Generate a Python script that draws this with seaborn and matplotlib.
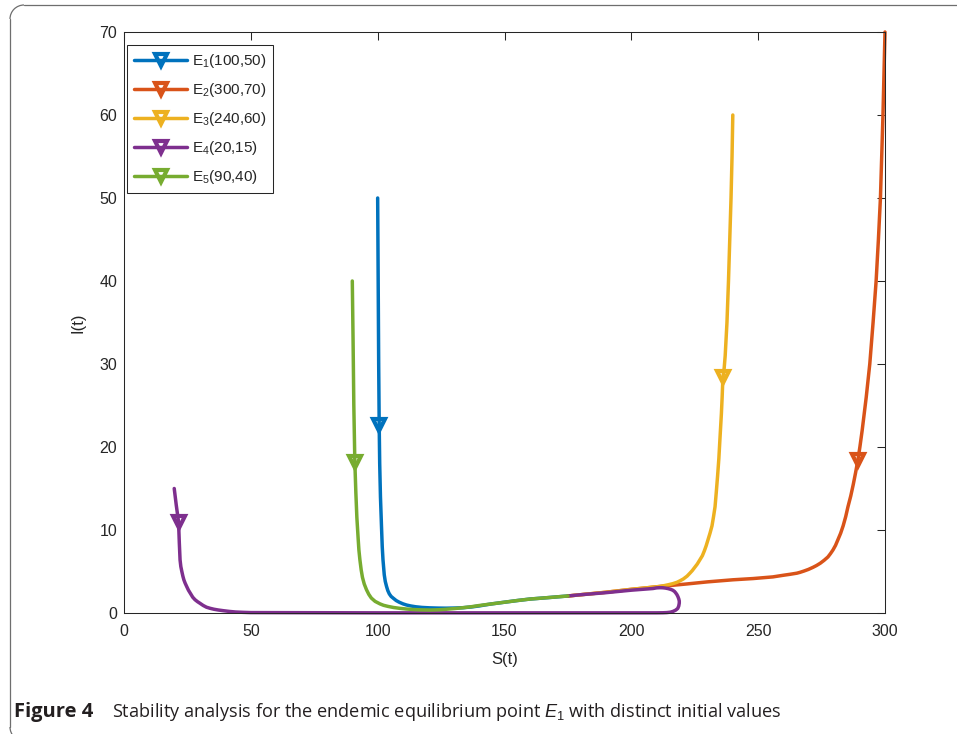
import matplotlib
matplotlib.use("Agg")
import matplotlib.pyplot as plt
import seaborn as sns
import pandas as pd
from matplotlib.patches import Arc
from matplotlib.lines import Line2D

# ---- data ----
labels = [r"E$_1$(100,50)", r"E$_2$(300,70)", r"E$_3$(240,60)", r"E$_4$(20,15)", r"E$_5$(90,40)"]
colors = ["#0072BD", "#D95319", "#EDB120", "#7E2F8E", "#77AC30"]

S1 = [100, 100.2, 100.4, 100.6, 100.8, 101.1, 101.5, 101.8, 102.1, 102.6, 103.0, 103.5, 104.0, 104.6, 105.3,
      106.2, 107.3, 108.5, 110.0, 111.4, 113.0, 115, 117.5, 120.6, 124, 127, 130.5, 133.7, 137, 140, 142.5,
      145, 150, 155, 160, 167, 175]
I1 = [50, 40, 30, 22.7, 18, 14, 10.5, 8.0, 6.4, 4.6, 3.8, 3.2, 2.7, 2.3, 2.0,
      1.77, 1.5, 1.3, 1.1, 0.96, 0.85, 0.75, 0.67, 0.62, 0.59, 0.58, 0.6, 0.64, 0.73, 0.85, 0.98,
      1.1, 1.3, 1.5, 1.68, 1.85, 2.05]

S2 = [300, 299.6, 299.2, 298.7, 298.2, 297.4, 296.5, 295.3, 294, 292.6, 291, 290.1, 289.3, 288.4, 287.5,
      286.5, 285.4, 284.5, 283.5, 282.5, 281.4, 280.5, 279.5, 278.5, 277.5, 276, 274.5, 273, 271.6,
      269.8, 268, 266.5, 265.3, 262.5, 260, 255.8, 248, 240, 230, 221.9, 216, 211.3, 205, 200, 190, 180, 175]
I2 = [70, 65, 60, 55, 50, 45, 40, 35, 30, 26, 22, 20, 18.4, 16.9, 15.5,
      14.1, 12.8, 11.6, 10.5, 9.6, 8.8, 8.15, 7.6, 7.15, 6.75, 6.35, 6.0, 5.72, 5.5,
      5.25, 5.05, 4.9, 4.8, 4.66, 4.55, 4.35, 4.15, 4.0, 3.75, 3.5, 3.33, 3.2, 3.0, 2.85, 2.5, 2.2, 2.05]

S3 = [240, 239.7, 239.3, 238.8, 238.3, 237.7, 237, 236.6, 236.1, 235.8, 235.5, 234.9, 234.5, 234, 233.5,
      233, 232.4, 231.8, 231.0, 230.2, 229.5, 228.8, 228.0, 227, 226, 225, 224, 223.1, 222, 220.5,
      219.2, 218, 216.3, 214.5, 213, 211.3, 205, 200, 190, 180, 175]
I3 = [60, 55, 50, 45, 40, 35, 31, 29.5, 28.4, 26, 24, 20.8, 18.6, 16.5, 14.6,
      12.8, 11.6, 10.5, 9.6, 8.8, 8.1, 7.5, 6.9, 6.4, 5.9, 5.5, 5.1, 4.8, 4.45, 4.1,
      3.88, 3.7, 3.53, 3.4, 3.3, 3.2, 3.0, 2.85, 2.5, 2.2, 2.05]

S4 = [19.8, 20.6, 21.5, 21.8, 22.1, 22.4, 22.8, 23.2, 23.6, 24.1, 24.7, 25.4, 26.3, 27.1, 28, 29, 30, 31.2,
      32.5, 34, 35.5, 37.2, 39.1, 41.5, 44, 47, 50, 100, 150, 200, 210, 212.5, 214, 215.4, 216.5, 217.5,
      218.3, 218.7, 218.9, 218.9, 218.7, 218.4, 218, 217.5, 217, 216.3, 215.5, 214.5, 213.5, 212.4, 211.3,
      210, 208.5, 200, 190, 180, 175]
I4 = [15, 13, 11, 8.5, 6.4, 5.6, 5.0, 4.45, 4.0, 3.6, 3.2, 2.75, 2.3, 1.9, 1.6, 1.36, 1.16, 0.91,
      0.7, 0.56, 0.45, 0.36, 0.28, 0.19, 0.12, 0.08, 0.05, 0.02, 0.02, 0.02, 0.02, 0.03, 0.05, 0.1, 0.2, 0.35,
      0.55, 0.85, 1.2, 1.45, 1.7, 1.95, 2.2, 2.42, 2.6, 2.75, 2.85, 2.94, 3.0, 3.04, 3.05,
      3.03, 2.95, 2.75, 2.45, 2.2, 2.05]

S5 = [90, 90.3, 90.6, 91, 91.4, 91.8, 92.3, 92.6, 93, 93.5, 94, 94.7, 95.6, 96.5, 97.5, 99, 100.9, 102.3, 104,
      106.3, 108.8, 111.3, 114, 117, 120.6, 124, 127, 130.5, 133.7, 137, 140, 142.5, 145, 150, 155, 160, 167, 175]
I5 = [40, 33, 25, 18.2, 14.5, 11.5, 9, 7.6, 6.4, 5.2, 4.3, 3.5, 2.8, 2.25, 1.8, 1.4, 1.1, 0.93, 0.8,
      0.66, 0.56, 0.48, 0.42, 0.38, 0.36, 0.39, 0.45, 0.54, 0.64, 0.76, 0.9, 1.0, 1.1, 1.3, 1.5, 1.68, 1.85, 2.05]

marker_idx = [3, 12, 8, 2, 3]

x_ticks = [0, 50, 100, 150, 200, 250, 300]
y_ticks = [0, 10, 20, 30, 40, 50, 60, 70]

# ---- style ----
sns.set_style("white")
plt.rcParams["font.family"] = ["Liberation Sans", "DejaVu Sans"]
plt.rcParams["mathtext.fontset"] = "custom"
plt.rcParams["mathtext.rm"] = "Liberation Sans"
plt.rcParams["mathtext.it"] = "Liberation Sans:italic"
plt.rcParams["mathtext.bf"] = "Liberation Sans:bold"

fig = plt.figure(figsize=(9.57, 7.34), dpi=100)
ax = fig.add_axes([124 / 957, 121 / 734, 761 / 957, 581 / 734])

mk = dict(marker="v", markersize=8.5, markerfacecolor="none", markeredgewidth=3.0)

series = [(S1, I1), (S2, I2), (S3, I3), (S4, I4), (S5, I5)]
handles = []
for (S, I), lab, c, mi in zip(series, labels, colors, marker_idx):
    df = pd.DataFrame({"S": S, "I": I})
    sns.lineplot(data=df, x="S", y="I", sort=False, estimator=None, ax=ax,
                 color=c, linewidth=2.5, markevery=[mi], markeredgecolor=c,
                 clip_on=False, **mk)
    handles.append(Line2D([], [], color=c, linewidth=2.5, markeredgecolor=c, label=lab, **mk))

ax.set_xlim(0, 300)
ax.set_ylim(0, 70)
ax.set_xticks(x_ticks)
ax.set_yticks(y_ticks)
ax.set_xlabel("S(t)", fontsize=12, color="#262626", labelpad=9)
ax.set_ylabel("I(t)", fontsize=12, color="#262626", labelpad=10)
ax.tick_params(axis="both", which="both", direction="in", length=5.5, width=0.75,
               colors="#262626", labelsize=11.5, top=True, right=True)
ax.tick_params(axis="x", pad=8)
ax.tick_params(axis="y", pad=5)
for sp in ax.spines.values():
    sp.set_visible(True)
    sp.set_color("#262626")
    sp.set_linewidth(0.75)

leg = ax.legend(handles=handles, loc="upper left", bbox_to_anchor=(0.004, 0.977), borderaxespad=0,
                fontsize=11, frameon=True, fancybox=False, framealpha=1,
                edgecolor="#262626", handlelength=3.5, handletextpad=0.3,
                labelspacing=0.72, borderpad=0.45, numpoints=1)
leg.get_frame().set_linewidth(0.75)

# outer frame (open to the right and bottom), drawn in inches
fc, flw, r = "#6e6e6e", 0.9, 0.14
tr = fig.dpi_scale_trans
fig.add_artist(Line2D([0.10 + r, 9.8], [7.29, 7.29], transform=tr, color=fc, lw=flw))
fig.add_artist(Line2D([0.10, 0.10], [7.29 - r, 0.07], transform=tr, color=fc, lw=flw))
fig.add_artist(Arc((0.10 + r, 7.29 - r), 2 * r, 2 * r, theta1=90, theta2=180,
                   transform=tr, color=fc, lw=flw))
fig.add_artist(Arc((0.10 + r, 0.07), 2 * r, 2 * r, theta1=180, theta2=270,
                   transform=tr, color=fc, lw=flw))

# caption
fig.text(14 / 957, 1 - 712 / 734, "Figure 4", fontsize=14.5, fontweight="bold",
         family=["Open Sans", "DejaVu Sans"], va="center", ha="left", color="#231f20")
fig.text(112 / 957, 1 - 712 / 734,
         r"Stability analysis for the endemic equilibrium point $E_1$ with distinct initial values",
         fontsize=13.1, family=["Open Sans", "DejaVu Sans"], va="center", ha="left", color="#231f20")

fig.savefig("out.png", dpi=100)
